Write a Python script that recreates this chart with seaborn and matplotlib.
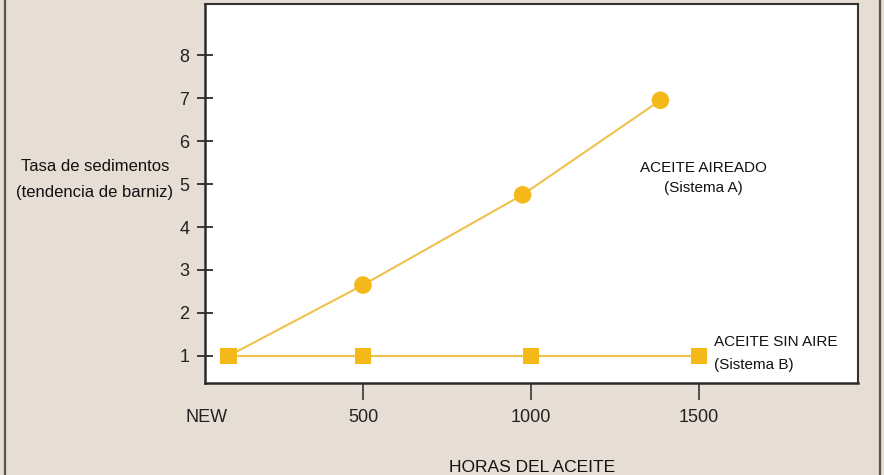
import matplotlib
matplotlib.use("Agg")
import matplotlib.pyplot as plt
import seaborn as sns
import pandas as pd
from matplotlib.lines import Line2D

# Data
hours_a = [100, 500, 975, 1385]
rate_a = [1.0, 2.65, 4.75, 6.95]
hours_b = [100, 500, 1000, 1500]
rate_b = [1.0, 1.0, 1.0, 1.0]
x_ticks = [500, 1000, 1500]
y_ticks = [1, 2, 3, 4, 5, 6, 7, 8]

sns.set_theme(style="white")
plt.rcParams['font.family'] = ['Liberation Sans', 'DejaVu Sans']

BG = "#e6ddd4"
MARK = "#f5b81a"
LINE = "#efc24c"
DARK = "#2b2b2b"

fig = plt.figure(figsize=(8.84, 4.75), dpi=100, facecolor=BG)
ax = fig.add_axes([205/884, 1-383/475, (858-205)/884, (383-4)/475])
ax.set_facecolor("white")

df_a = pd.DataFrame({"h": hours_a, "r": rate_a})
df_b = pd.DataFrame({"h": hours_b, "r": rate_b})

sns.lineplot(data=df_b, x="h", y="r", ax=ax, color=LINE, linewidth=1.5)
sns.lineplot(data=df_a, x="h", y="r", ax=ax, color=LINE, linewidth=1.5)
sns.scatterplot(data=df_a.iloc[1:], x="h", y="r", ax=ax, color=MARK,
                marker="o", s=160, edgecolor="none", zorder=5)
sns.scatterplot(data=df_b, x="h", y="r", ax=ax, color=MARK,
                marker="s", s=140, edgecolor="none", zorder=5)

ax.set_xlim(30, 1973)
ax.set_ylim(0.37, 9.19)
ax.set_xticks(x_ticks)
ax.set_xticklabels([str(v) for v in x_ticks])
ax.set_yticks(y_ticks)
ax.set_yticklabels([str(v) for v in y_ticks])
ax.set_xlabel("")
ax.set_ylabel("")

ax.tick_params(axis="y", direction="inout", length=11.5, width=1.3,
               color=DARK, pad=5.5, labelsize=13, labelcolor="#222222", left=True)
ax.tick_params(axis="x", direction="out", length=12, width=1.3,
               color="#444444", pad=6.5, labelsize=13, labelcolor="#222222", bottom=True)

for side in ["left", "bottom"]:
    ax.spines[side].set_linewidth(1.8)
    ax.spines[side].set_color(DARK)
for side in ["top", "right"]:
    ax.spines[side].set_linewidth(1.5)
    ax.spines[side].set_color("#333333")

# NEW label at origin
ax.text(35, -0.092, "NEW", transform=ax.get_xaxis_transform(),
        ha="center", va="center", fontsize=13, color="#222222", clip_on=False)

# series labels
ax.text(1512, 5.37, "ACEITE AIREADO", ha="center", va="center", fontsize=11, color="#111111")
ax.text(1512, 4.90, "(Sistema A)", ha="center", va="center", fontsize=11, color="#111111")
ax.text(1545, 1.33, "ACEITE SIN AIRE", ha="left", va="center", fontsize=11, color="#111111")
ax.text(1545, 0.80, "(Sistema B)", ha="left", va="center", fontsize=11, color="#111111")

# axis titles
fig.text(95/884, 1-166/475, "Tasa de sedimentos", ha="center", va="center",
         fontsize=12, color="#111111")
fig.text(95/884, 1-192/475, "(tendencia de barniz)", ha="center", va="center",
         fontsize=12, color="#111111")
fig.text(532/884, 1-468/475, "HORAS DEL ACEITE", ha="center", va="center",
         fontsize=12.5, color="#111111")

# frame lines of the figure
fig.add_artist(Line2D([4.5/884, 4.5/884], [0, 1], transform=fig.transFigure,
                      color="#555555", linewidth=1.6))
fig.add_artist(Line2D([880/884, 880/884], [0, 1], transform=fig.transFigure,
                      color="#555555", linewidth=1.6))

fig.savefig("out.png", dpi=100, facecolor=BG)
